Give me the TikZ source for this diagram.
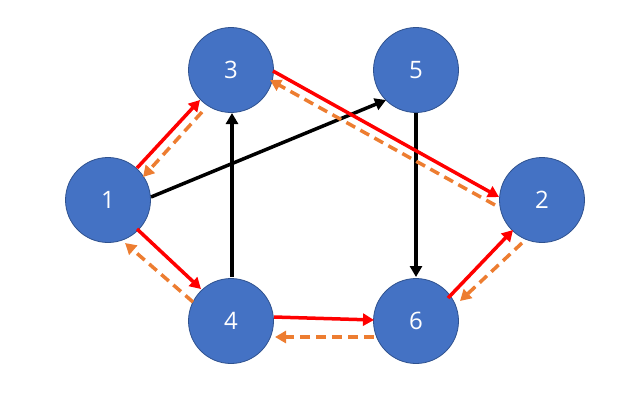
\documentclass[tikz,border=0pt]{standalone}
\usepackage{fontspec}
\setmainfont{Open Sans}
\usetikzlibrary{arrows.meta}
\definecolor{nodeblue}{HTML}{4472C4}
\definecolor{nodeedge}{HTML}{2F528F}
\definecolor{dashorange}{HTML}{ED7D31}
\begin{document}
\begin{tikzpicture}[x=1pt,y=-1pt,
  vert/.style={circle,fill=nodeblue,draw=nodeedge,line width=0.8pt,minimum size=85pt,inner sep=0pt,outer sep=0pt,text=white,font=\fontsize{24}{24}\selectfont},
  tip/.style={-{Triangle[length=11pt,width=12pt]}},
  fwd/.style={tip,draw=red,line width=3.5pt},
  back/.style={tip,draw=dashorange,line width=3.5pt,dash pattern=on 10pt off 6pt},
  plain/.style={tip,draw=black,line width=3.5pt}]
\useasboundingbox (0,0) rectangle (644,400);
\node[vert] (n1) at (108,200) {1};
\node[vert] (n3) at (231,70) {3};
\node[vert] (n5) at (416,70) {5};
\node[vert] (n2) at (542,200) {2};
\node[vert] (n4) at (231,321) {4};
\node[vert] (n6) at (416,321) {6};
% black
\draw[plain] ([shift={(43,-3)}]n1.center) -- ([shift={(-30,30)}]n5.center);
\draw[plain] ([shift={(1,-44)}]n4.center) -- ([shift={(1,43)}]n3.center);
\draw[plain] ([shift={(0,43)}]n5.center) -- ([shift={(0,-44)}]n6.center);
% orange dashed
\draw[back] ([shift={(-29,42)}]n3.center) -- ([shift={(35,-23)}]n1.center);
\draw[back] ([shift={(-47,5)}]n2.center) -- ([shift={(39,10)}]n3.center);
\draw[back] ([shift={(-38,-19)}]n4.center) -- ([shift={(17,43)}]n1.center);
\draw[back] ([shift={(-42,16)}]n6.center) -- ([shift={(44,16)}]n4.center);
\draw[back] ([shift={(-20,43)}]n2.center) -- ([shift={(44,-20)}]n6.center);
% red
\draw[fwd] ([shift={(29,-32)}]n1.center) -- ([shift={(-31,30)}]n3.center);
\draw[fwd] ([shift={(42,1)}]n3.center) -- ([shift={(-43,-3)}]n2.center);
\draw[fwd] ([shift={(29,29)}]n1.center) -- ([shift={(-30,-32)}]n4.center);
\draw[fwd] ([shift={(43,-4)}]n4.center) -- ([shift={(-42,-1)}]n6.center);
\draw[fwd] ([shift={(32,-23)}]n6.center) -- ([shift={(-29,30)}]n2.center);
\end{tikzpicture}
\end{document}
